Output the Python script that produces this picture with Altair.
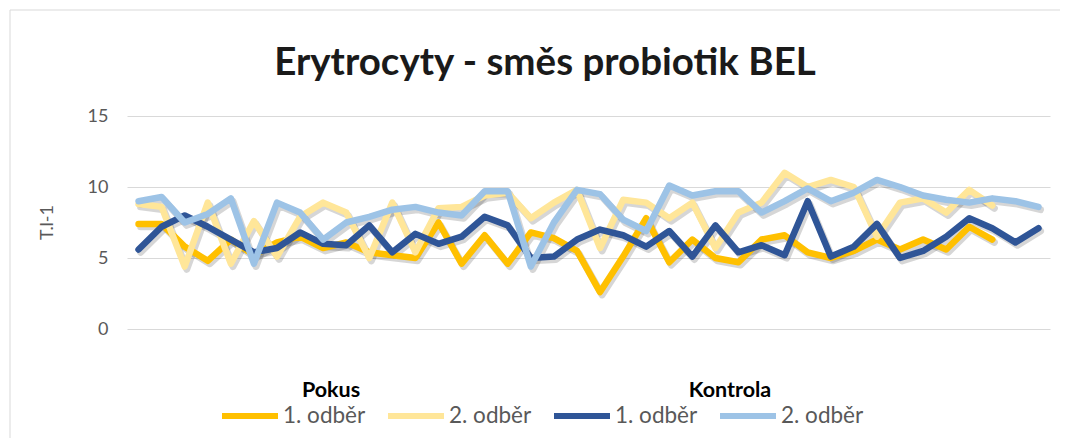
import altair as alt
import pandas as pd

# ---- data ----
series_names = ["Pokus|1. odběr", "Pokus|2. odběr", "Kontrola|1. odběr", "Kontrola|2. odběr"]
series_colors = ["#FFC000", "#FFE699", "#2F5597", "#9DC3E6"]

pokus_1 = [7.4, 7.4, 5.8, 4.8, 6.3, 5.2, 6.1, 6.5, 5.7, 6.1, 5.4, 5.2, 5.0, 7.5, 4.6, 6.6,
           4.6, 6.8, 6.4, 5.5, 2.6, 5.1, 7.8, 4.7, 6.3, 5.0, 4.7, 6.3, 6.6, 5.4, 5.0, 5.5,
           6.3, 5.6, 6.3, 5.6, 7.2, 6.3]
pokus_2 = [8.8, 8.6, 4.4, 8.9, 4.6, 7.6, 5.1, 7.9, 8.9, 8.2, 5.0, 8.9, 5.4, 8.5, 8.6, 9.4,
           9.6, 7.8, 8.9, 9.8, 5.7, 9.1, 8.9, 7.8, 8.9, 5.7, 8.2, 8.9, 11.0, 10.0, 10.5, 10.0,
           6.5, 8.9, 9.2, 8.2, 9.8, 8.7]
kontrola_1 = [5.6, 7.2, 8.0, 7.2, 6.3, 5.4, 5.7, 6.8, 6.0, 5.9, 7.3, 5.4, 6.7, 6.0, 6.5, 7.9,
              7.3, 5.0, 5.1, 6.3, 7.0, 6.6, 5.8, 6.9, 5.1, 7.3, 5.4, 5.9, 5.2, 9.0, 5.1, 5.8,
              7.4, 5.0, 5.5, 6.5, 7.8, 7.1, 6.1, 7.1]
kontrola_2 = [9.0, 9.3, 7.5, 8.1, 9.2, 4.6, 8.9, 8.2, 6.3, 7.5, 7.9, 8.4, 8.6, 8.2, 8.0, 9.7,
              9.7, 4.4, 7.5, 9.8, 9.5, 7.7, 6.9, 10.1, 9.4, 9.7, 9.7, 8.2, 9.0, 9.9, 9.0, 9.6,
              10.5, 10.0, 9.4, 9.1, 8.9, 9.2, 9.0, 8.6]

y_ticks = [0, 5, 10, 15]
title_text = "Erytrocyty - směs probiotik BEL"
y_title = "T.l-1"
group_headers = ["Pokus", "Kontrola"]

rows = []
for name, vals in zip(series_names, [pokus_1, pokus_2, kontrola_1, kontrola_2]):
    for i, v in enumerate(vals):
        rows.append({"series": name, "i": i, "v": v})
df = pd.DataFrame(rows)

FONT = "Lato"
GREY = "#595959"

y_axis = alt.Axis(values=y_ticks, title=y_title, grid=True, gridColor="#d9d9d9",
                  domain=False, ticks=False, labelPadding=19, labelFontSize=18,
                  labelColor=GREY, labelFont=FONT, titleFont=FONT, titleFontSize=18,
                  titleColor=GREY, titleFontWeight="normal", titleX=-80, titleY=106,
                  titleAngle=-90, titleAlign="center", titleBaseline="middle")
x_scale = alt.Scale(domain=[-0.5, 39.5], nice=False, zero=False)
y_scale = alt.Scale(domain=[0, 15], nice=False)

shadow = alt.Chart(df).transform_calculate(
    xs="datum.i + 0.09", ys="datum.v - 0.2"
).mark_line(strokeWidth=7, strokeCap="round", strokeJoin="round").encode(
    x=alt.X("xs:Q", scale=x_scale, axis=None),
    y=alt.Y("ys:Q", scale=y_scale, axis=y_axis),
    detail="series:N",
    order="i:Q",
    color=alt.value("#000000"),
    opacity=alt.value(0.16),
)

lines = alt.Chart(df).mark_line(strokeWidth=6.5, strokeCap="round", strokeJoin="round").encode(
    x=alt.X("i:Q", scale=x_scale, axis=None),
    y=alt.Y("v:Q", scale=y_scale, axis=y_axis),
    order="i:Q",
    color=alt.Color("series:N",
                    scale=alt.Scale(domain=series_names, range=series_colors),
                    sort=series_names,
                    legend=alt.Legend(orient="none", legendX=92, legendY=269,
                                      direction="horizontal", title=None,
                                      symbolType="stroke", symbolSize=3136,
                                      symbolStrokeWidth=6, labelFontSize=22.5,
                                      labelFont=FONT, labelColor=GREY, labelOffset=2,
                                      columnPadding=10, labelLimit=200,
                                      labelExpr="split(datum.label, '|')[1]")),
)

one_row = alt.Data(values=[{"k": 0}])

title = alt.Chart(one_row).mark_text(font=FONT, fontSize=38.5, fontWeight="bold",
                                     color="#1a1a1a", align="center", baseline="middle").encode(
    x=alt.value(418), y=alt.value(-53), text=alt.value(title_text))

hdr1 = alt.Chart(one_row).mark_text(font=FONT, fontSize=21.5, fontWeight="bold",
                                    color="#000000", align="center", baseline="middle").encode(
    x=alt.value(204), y=alt.value(275), text=alt.value(group_headers[0]))
hdr2 = alt.Chart(one_row).mark_text(font=FONT, fontSize=21.5, fontWeight="bold",
                                    color="#000000", align="center", baseline="middle").encode(
    x=alt.value(603), y=alt.value(275), text=alt.value(group_headers[1]))

frame = alt.Chart(one_row).mark_rect(fill=None, stroke="#d9d9d9", strokeWidth=1).encode(
    x=alt.value(-117), x2=alt.value(935), y=alt.value(-106), y2=alt.value(340))

chart = alt.layer(frame, shadow, lines, title, hdr1, hdr2).properties(
    width=923, height=213,
    autosize=alt.AutoSizeParams(type="none"),
    padding={"left": 119, "top": 108, "right": 10, "bottom": 109},
).configure_view(stroke=None)

chart.save("out.html", embed_options={"renderer": "svg", "actions": False})
